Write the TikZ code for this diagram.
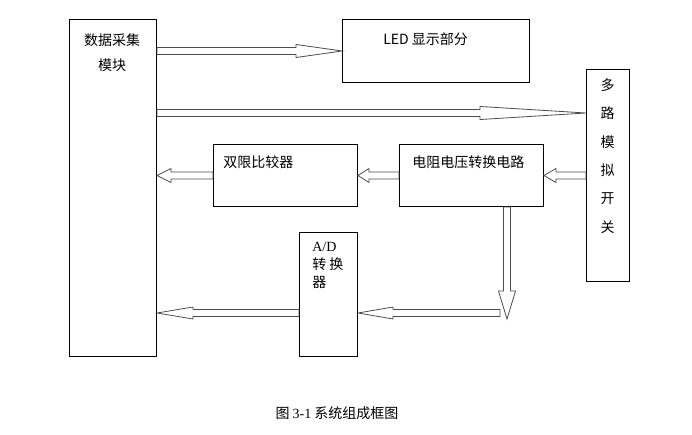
\documentclass[tikz,border=0pt]{standalone}
\usepackage{fontspec}
\setmainfont{Liberation Serif}
\newfontfamily\cjk{Noto Sans CJK SC}
\usetikzlibrary{calc}

\newcommand{\sw}{2.6pt}

\begin{document}
\begin{tikzpicture}[x=0.75pt,y=-0.75pt,
        box/.style 2 args={draw,line width=0.75pt,anchor=north west,inner sep=0pt,
            minimum width=#1*0.75pt,minimum height=#2*0.75pt},
        txt/.style={inner sep=0pt,font=\cjk\fontsize{10.5}{13.5}\selectfont},
        hollow/.style 2 args={draw=black!70,line width=0.6pt,to path={
            let \p1=(\tikztostart), \p2=(\tikztotarget),
                \n1={atan2(\y2-\y1,\x2-\x1)} in
            ($(\p1)+({\n1+90}:\sw)$)
            -- ($(\p2)+({\n1+180}:#1)+({\n1+90}:\sw)$)
            -- ($(\p2)+({\n1+180}:#1)+({\n1+90}:#2)$)
            -- (\p2)
            -- ($(\p2)+({\n1+180}:#1)+({\n1-90}:#2)$)
            -- ($(\p2)+({\n1+180}:#1)+({\n1-90}:\sw)$)
            -- ($(\p1)+({\n1-90}:\sw)$) -- cycle}}]
            \useasboundingbox (0,0) rectangle (692,435);
            \node[box={87}{337}] (data) at (69,19) {};
            \node[box={187}{63}] (led) at (342,19) {};
            \node[box={43}{212}] (mux) at (586,69) {};
            \node[box={144}{62}] (cmp) at (213,144) {};
            \node[box={144}{62}] (res) at (399,144) {};
            \node[box={58}{124}] (adc) at (299,232) {};
            \node[txt,align=center,font=\cjk\fontsize{10.5}{18.75}\selectfont] (datatxt) at (112,52.5) {数据采集\\模块};
            \node[txt,anchor=west] (ledtxt) at (383,39) {LED 显示部分};
            \node[txt,align=center,font=\cjk\fontsize{10.5}{21.3}\selectfont] (muxtxt) at (607.5,156) {多\\路\\模\\拟\\开\\关};
            \node[txt,anchor=west] (cmptxt) at (223,162) {双限比较器};
            \node[txt,anchor=west] (restxt) at (412,162) {电阻电压转换电路};
            \node[txt,align=left,anchor=west] (adctxt) at (312,265) {{\rmfamily A/D}\\转 换\\器};
            \node[txt] (caption) at (337,413) {图 {\rmfamily 3-1} 系统组成框图};
            \coordinate (lvl2) at (0,113);
            \coordinate (bend) at (507,319);
            \coordinate (back) at (500,313);
            \draw[hollow={34.5pt}{4.9pt}] (data.east |- led.west) to (led.west);
            \draw[hollow={79.5pt}{4.9pt}] (data.east |- lvl2) to (mux.west |- lvl2);
            \draw[hollow={9pt}{5.25pt}] (mux.west |- res.east) to (res.east);
            \draw[hollow={8.25pt}{5.25pt}] (res.west) to (cmp.east);
            \draw[hollow={10.5pt}{5.25pt}] (cmp.west) to (data.east |- cmp.west);
            \draw[hollow={21pt}{6.4pt}] (res.south -| bend) to (bend);
            \draw[hollow={26.25pt}{4.5pt}] (back) to (adc.east |- back);
            \draw[hollow={27pt}{4.5pt}] (adc.west |- back) to (data.east |- back);
        \end{tikzpicture}
\end{document}
